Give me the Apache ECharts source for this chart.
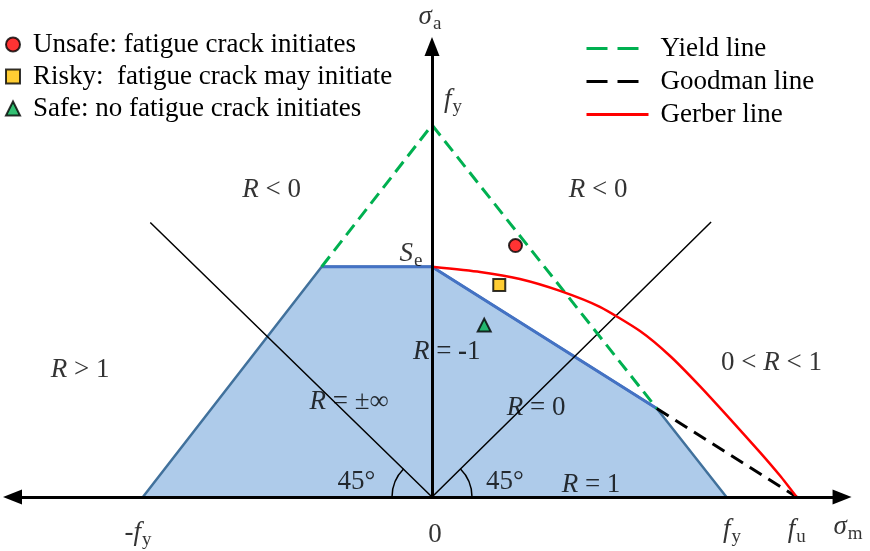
<!DOCTYPE HTML>
<html>
<head>
    <meta charset="utf-8">
    <title>Fatigue limit diagram</title>
    <style>
        html, body { margin: 0; padding: 0; background: #fff; }
        #main { width: 870px; height: 551px; }
    </style>
</head>
<body>
<div id="main"></div>
<script type="text/javascript" src="https://cdn.jsdelivr.net/npm/echarts@6/dist/echarts.min.js"></script>
<script type="text/javascript">
    // every value is normalised by fy : x = sigma_m / fy , y = sigma_a / fy
    var safeZone = [[-0.98, 0], [-0.374, 0.619], [0, 0.619], [0.762, 0.238], [0.998, 0]];
    var safeTop = [[-0.374, 0.619], [0, 0.619], [0.762, 0.238]];
    var yieldLine = [[-0.374, 0.619], [0, 1], [0.762, 0.238]];
    var goodmanLine = [[0.762, 0.238], [1.236, 0]];
    var gerberLine = [[0, 0.619], [0.163, 0.605], [0.298, 0.586], [0.434, 0.554], [0.569, 0.511],
        [0.705, 0.446], [0.807, 0.379], [0.908, 0.298], [1.010, 0.210],
        [1.112, 0.120], [1.180, 0.057], [1.236, 0]];
    var ratioLines = [[-0.955, 0.738], [0, 0], [0.946, 0.739]];   // R = ±∞ and R = 0
    var unsafePts = [[0.283, 0.676]];
    var riskyPts = [[0.228, 0.570]];
    var safePts = [[0.177, 0.462]];

    var pointNames = ['Unsafe: fatigue crack initiates', 'Risky:  fatigue crack may initiate', 'Safe: no fatigue crack initiates'];
    var lineNames = ['Yield line', 'Goodman line', 'Gerber line'];

    // text notes on the diagram
    var noteXY = [[-0.007, 1.290], [0.071, 1.067], [-0.071, 0.653], [-0.544, 0.825], [0.563, 0.825],
        [-1.193, 0.341], [1.151, 0.360], [0.050, 0.390], [-0.281, 0.255], [0.353, 0.239],
        [0.539, 0.032], [-0.256, 0.040], [0.247, 0.040], [-0.997, -0.097], [0.010, -0.102],
        [1.017, -0.089], [1.236, -0.089], [1.410, -0.081]];
    var noteText = ['{i|σ}{s|a}', '{i|f}{s|y}', '{i|S}{s|e}', '{i|R}{n| < 0}', '{i|R}{n| < 0}',
        '{i|R}{n| > 1}', '{n|0 < }{i|R}{n| < 1}', '{i|R}{n| = }{b|-}{n|1}', '{i|R}{n| = ±∞}', '{i|R}{n| = 0}',
        '{i|R}{n| = 1}', '{n|45°}', '{n|45°}', '{n|-}{i|f}{s|y}', '{n|0}',
        '{i|f}{s|y}', '{i|f}{s|u}', '{i|σ}{s|m}'];

    var FONT = 'Liberation Serif';
    var FS = 27;

    var dom = document.getElementById('main');
    var myChart = echarts.init(dom);

    var rich = {
        n: {fontFamily: FONT, fontSize: FS, color: '#000'},
        i: {fontFamily: FONT, fontSize: FS, fontStyle: 'italic', color: '#000'},
        b: {fontFamily: FONT, fontSize: FS, fontWeight: 'bold', color: '#000'},
        s: {fontFamily: FONT, fontSize: 19, color: '#000', padding: [14, 0, 0, 1]}
    };

    var notes = [];
    for (var i = 0; i < noteXY.length; i++) {
        notes.push({value: noteXY[i], label: {formatter: noteText[i]}});
    }

    var option = {
        animation: false,
        grid: {left: 0, right: 0, top: 0, bottom: 0},
        xAxis: {type: 'value', min: -1.4644, max: 1.4847, show: false},
        yAxis: {type: 'value', min: -0.1452, max: 1.336, show: false},
        legend: [{
            data: pointNames,
            orient: 'vertical',
            left: 5, top: 31, padding: 0,
            itemWidth: 14, itemHeight: 14, itemGap: 5,
            selectedMode: false,
            textStyle: {fontFamily: FONT, fontSize: FS, color: '#000', padding: [0, 0, 0, 8]}
        }, {
            data: [
                {name: lineNames[0], lineStyle: {type: [21, 10], width: 3}},
                {name: lineNames[1], lineStyle: {type: [21, 10], width: 3}},
                {name: lineNames[2], lineStyle: {type: 'solid', width: 3}}
            ],
            orient: 'vertical',
            left: 585, top: 35, padding: 0,
            itemWidth: 62, itemHeight: 12, itemGap: 6,
            selectedMode: false,
            itemStyle: {color: 'transparent', borderWidth: 0, opacity: 0},
            textStyle: {fontFamily: FONT, fontSize: FS, color: '#000', padding: [0, 0, 0, 7]}
        }],
        series: [
            {   // safe region
                type: 'line', data: safeZone, symbol: 'none', silent: true, z: 1,
                lineStyle: {color: '#41719c', width: 2.5},
                areaStyle: {color: '#aecbea', opacity: 1}
            },
            {
                type: 'line', data: safeTop, symbol: 'none', silent: true, z: 2,
                lineStyle: {color: '#4472c4', width: 3}
            },
            {   // R lines and the two axes
                type: 'line', data: ratioLines, symbol: 'none', silent: true, z: 3,
                lineStyle: {color: '#000', width: 1.5},
                markLine: {
                    silent: true,
                    symbol: ['triangle', 'triangle'],
                    symbolSize: [15, 19],
                    label: {show: false},
                    lineStyle: {color: '#000', width: 3, type: 'solid'},
                    data: [
                        [{coord: [-1.422, 0], symbol: 'triangle'}, {coord: [1.390, 0], symbol: 'triangle'}],
                        [{coord: [0, 0], symbol: 'none'}, {coord: [0, 1.211], symbol: 'triangle'}]
                    ]
                }
            },
            {
                name: 'Yield line', type: 'line', data: yieldLine, symbol: 'none', z: 4,
                itemStyle: {color: '#00b050'},
                lineStyle: {color: '#00b050', width: 3, type: [13, 7]}
            },
            {
                name: 'Goodman line', type: 'line', data: goodmanLine, symbol: 'none', z: 4,
                itemStyle: {color: '#000'},
                lineStyle: {color: '#000', width: 3, type: [14, 8]}
            },
            {
                name: 'Gerber line', type: 'line', data: gerberLine, symbol: 'none', smooth: 0.2, z: 4,
                itemStyle: {color: '#ff0000'},
                lineStyle: {color: '#ff0000', width: 2.5}
            },
            {
                name: pointNames[0], type: 'scatter', data: unsafePts, symbol: 'circle', symbolSize: 13, z: 5,
                itemStyle: {color: '#ff0000', borderColor: '#000', borderWidth: 2}
            },
            {
                name: pointNames[1], type: 'scatter', data: riskyPts, symbol: 'rect', symbolSize: 12, z: 5,
                itemStyle: {color: '#ffc000', borderColor: '#000', borderWidth: 2}
            },
            {
                name: pointNames[2], type: 'scatter', data: safePts, symbol: 'triangle', symbolSize: 13, z: 5,
                itemStyle: {color: '#00b050', borderColor: '#000', borderWidth: 2}
            },
            {   // 45 degree arcs at the origin
                type: 'custom', silent: true, z: 3,
                data: [[0, 0]],
                renderItem: function (params, api) {
                    var c = api.coord([0, 0]);
                    var st = {stroke: '#000', lineWidth: 1.5, fill: 'none'};
                    return {
                        type: 'group', children: [
                            {type: 'arc', shape: {cx: c[0], cy: c[1], r: 40, startAngle: Math.PI, endAngle: Math.PI * 1.25, clockwise: true}, style: st},
                            {type: 'arc', shape: {cx: c[0], cy: c[1], r: 40, startAngle: -Math.PI * 0.25, endAngle: 0, clockwise: true}, style: st}
                        ]
                    };
                }
            },
            {   // text notes
                type: 'scatter', data: notes, symbolSize: 0, silent: true, z: 6,
                label: {show: true, position: 'inside', color: '#000', rich: rich}
            }
        ]
    };

    myChart.setOption(option);
</script>
</body>
</html>
